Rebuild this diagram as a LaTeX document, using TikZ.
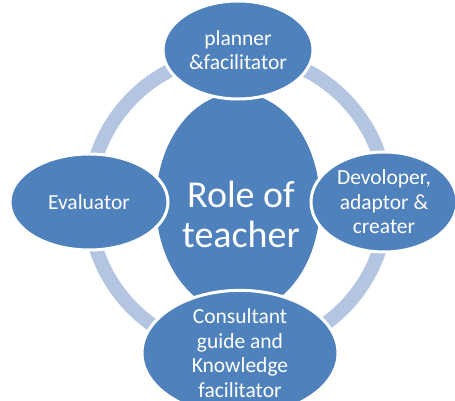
\documentclass[tikz,border=0pt]{standalone}
\usepackage{fontspec}
\setmainfont{Carlito}
\usetikzlibrary{shapes.geometric}
\definecolor{roleblue}{RGB}{79,129,189}
\definecolor{ringblue}{RGB}{180,197,226}
\tikzset{
  role/.style={ellipse,fill=roleblue,draw=white,line width=3pt,inner sep=0pt,
    text=white,align=center,font=\fontsize{21.5}{24.5}\selectfont}
}
\begin{document}
\begin{tikzpicture}[x=1pt,y=1pt]
\useasboundingbox (0,0) rectangle (455,401);
% ring
\draw [ringblue, line width=14pt] (238,198) circle (149);
% centre
\node [role, draw=none, minimum width=164pt, minimum height=220pt] (teacher) at (238,198) {};
\node [text=white, align=center, font=\fontsize{38}{40}\selectfont] (teacherlabel)
  at ([xshift=3pt,yshift=-11pt]teacher.center) {Role of\\teacher};
% outer roles
\node [role, minimum width=150pt, minimum height=98pt] (planner) at (238,351) {planner\\\&facilitator};
\node [role, minimum width=146pt, minimum height=100pt] (developer) at (384,199) {Devoloper,\\adaptor \&\\creater};
\node [role, minimum width=196pt, minimum height=100pt] (consultant) at (240,48) {Consultant\\guide and\\Knowledge\\facilitator};
\node [role, minimum width=158pt, minimum height=96pt] (evaluator) at (89,199) {Evaluator};
\end{tikzpicture}
\end{document}
